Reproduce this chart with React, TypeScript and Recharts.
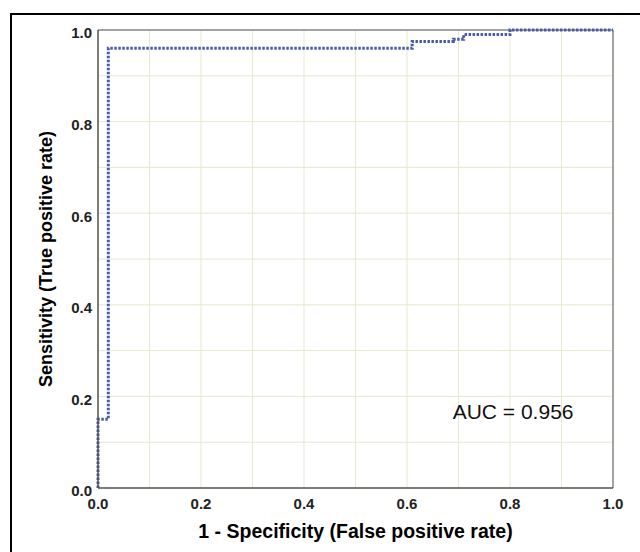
import React from 'react';
import { LineChart, Line, XAxis, YAxis, CartesianGrid, ReferenceLine, ReferenceDot } from 'recharts';

const fpr = [0, 0, 0.02, 0.02, 0.61, 0.61, 0.69, 0.69, 0.71, 0.71, 0.8, 0.8, 1.0];
const tpr = [0, 0.15, 0.15, 0.96, 0.96, 0.975, 0.975, 0.98, 0.98, 0.99, 0.99, 1.0, 1.0];
const axisTicks = [0, 0.1, 0.2, 0.3, 0.4, 0.5, 0.6, 0.7, 0.8, 0.9, 1.0];
const aucText = 'AUC = 0.956';
const xTitle = '1 - Specificity (False positive rate)';
const yTitle = 'Sensitivity (True positive rate)';

const data = fpr.map((x, i) => ({ x, y: tpr[i] }));

const FONT = '"Liberation Sans", Arial, sans-serif';
const fmt = (v: number) => (Math.round(v * 10) % 2 === 0 ? v.toFixed(1) : '');

export default function App() {
  return (
    <div style={{ position: 'absolute', left: 0, top: 0, width: 640, height: 552, overflow: 'hidden', background: '#fff' }}>
      <div style={{ position: 'absolute', left: 10, top: 13, width: 640, height: 560, border: '2px solid #000', boxSizing: 'border-box' }} />
      <div style={{ position: 'absolute', left: 0, top: 0 }}>
        <LineChart width={640} height={552} data={data} margin={{ top: 30, right: 27, bottom: 14, left: 38 }}>
          <CartesianGrid stroke="#e8e7cf" strokeWidth={1} />
          <XAxis
            dataKey="x"
            type="number"
            domain={[0, 1]}
            ticks={axisTicks}
            tickFormatter={fmt}
            interval={0}
            tickLine={false}
            tickMargin={4}
            height={50}
            axisLine={{ stroke: '#555', strokeWidth: 1.5 }}
            tick={{ fill: '#222', fontSize: 15, fontWeight: 700, fontFamily: FONT }}
            label={{ value: xTitle, position: 'center', dy: 18, fill: '#000', fontSize: 19.5, fontWeight: 700, fontFamily: FONT }}
          />
          <YAxis
            type="number"
            domain={[0, 1]}
            ticks={axisTicks}
            tickFormatter={fmt}
            interval={0}
            tickLine={false}
            tickMargin={0}
            width={60}
            axisLine={{ stroke: '#555', strokeWidth: 1.5 }}
            tick={{ fill: '#222', fontSize: 15, fontWeight: 700, fontFamily: FONT, dy: 3 }}
            label={{ value: yTitle, angle: -90, position: 'center', dx: -22, fill: '#000', fontSize: 18, fontWeight: 700, fontFamily: FONT }}
          />
          <ReferenceLine y={1} stroke="#888" strokeWidth={1.5} />
          <ReferenceLine x={1} stroke="#888" strokeWidth={1.5} />
          <Line
            type="linear"
            dataKey="y"
            stroke="#4a5ca8"
            strokeWidth={3}
            strokeDasharray="2.5 1.5"
            dot={false}
            isAnimationActive={false}
          />
          <ReferenceDot
            x={0.806}
            y={0.166}
            r={0}
            fill="none"
            stroke="none"
            label={{ value: aucText, position: 'center', fill: '#111', fontSize: 21, fontFamily: FONT }}
          />
        </LineChart>
      </div>
    </div>
  );
}
